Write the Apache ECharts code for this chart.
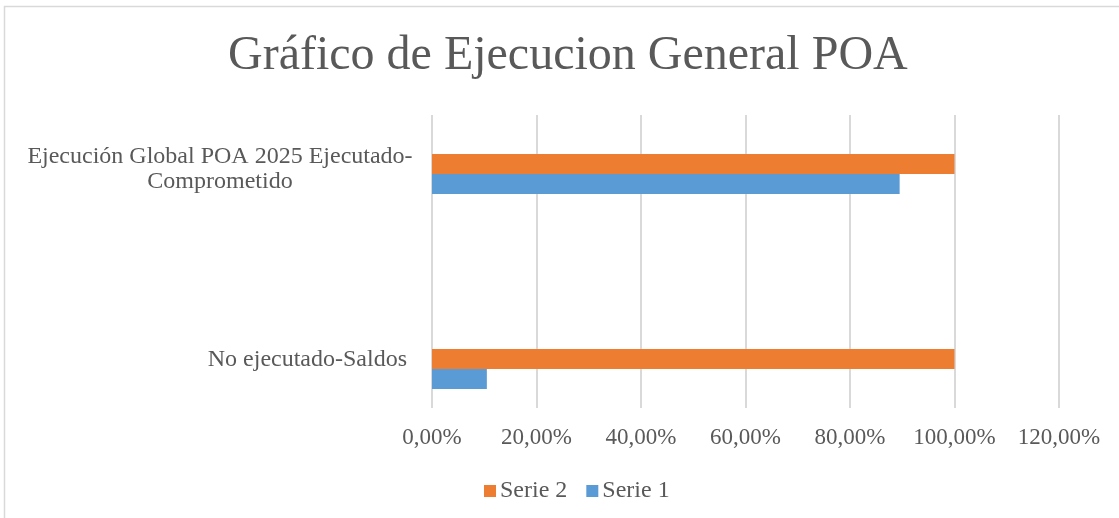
<!DOCTYPE html>
<html>
<head>
<meta charset="utf-8">
<script src="https://cdn.jsdelivr.net/npm/echarts@6/dist/echarts.min.js"></script>
<style>
  html, body { margin: 0; padding: 0; background: #fff; }
  #chart { width: 1119px; height: 518px; }
</style>
</head>
<body>
<div id="chart"></div>
<script>
var myChart = echarts.init(document.getElementById('chart'));

// datos
var categorias = ['No ejecutado-Saldos', 'Ejecución Global POA 2025 Ejecutado-Comprometido'];
var serie1 = [0.105, 0.895];
var serie2 = [1, 1];
var ejeX = { min: 0, max: 1.2, interval: 0.2 };

var fuente = 'Liberation Serif';
var gris = '#595959';

function pct(v) {
    return (v * 100).toFixed(2).replace('.', ',') + '%';
}

option = {
    backgroundColor: '#fff',
    animation: false,
    title: {
        text: 'Gráfico de Ejecucion General POA',
        left: 228,
        top: 32,
        padding: 0,
        textStyle: { fontFamily: fuente, fontSize: 48, fontWeight: 'normal', color: gris }
    },
    graphic: [{
        type: 'rect',
        shape: { x: 4.5, y: 6.5, width: 1300, height: 700 },
        style: { fill: 'none', stroke: '#d9d9d9', lineWidth: 1.5 },
        silent: true
    }],
    legend: {
        data: ['Serie 2', 'Serie 1'],
        left: 479,
        top: 474,
        icon: 'rect',
        itemWidth: 12,
        itemHeight: 12,
        itemGap: 19,
        textStyle: { fontFamily: fuente, fontSize: 24, color: gris, padding: [0, 0, 0, -1] }
    },
    grid: [
        { left: 432, right: 60, top: 76.5, bottom: 51.5 },
        { left: 432, right: 60, top: 115, bottom: 110 }
    ],
    xAxis: [
        { type: 'value', gridIndex: 0, min: ejeX.min, max: ejeX.max, interval: ejeX.interval, show: false },
        {
            type: 'value', gridIndex: 1, min: ejeX.min, max: ejeX.max, interval: ejeX.interval,
            axisLine: { show: false },
            axisTick: { show: false },
            splitLine: { lineStyle: { color: '#d9d9d9', width: 2 } },
            axisLabel: {
                formatter: pct, margin: 18,
                fontFamily: fuente, fontSize: 23, color: gris
            }
        }
    ],
    yAxis: [
        {
            type: 'category', gridIndex: 0, data: categorias,
            axisLine: { show: false },
            axisTick: { show: false },
            axisLabel: {
                margin: 19,
                padding: [0, 0, 10, 0],
                formatter: function (v) {
                    var i = v.indexOf('Ejecutado-Comprometido');
                    if (i < 0) return '{s|' + v + '}';
                    return '{c|' + v.slice(0, i + 10) + '}\n{c|' + v.slice(i + 10) + '}';
                },
                rich: {
                    c: { width: 386, align: 'center', fontFamily: fuente, fontSize: 24, color: gris, lineHeight: 25 },
                    s: { fontFamily: fuente, fontSize: 24, color: gris, padding: [0, 6, 8, 0] }
                }
            }
        },
        { type: 'value', gridIndex: 1, show: false, min: 0, max: 1 }
    ],
    series: [
        {
            name: 'Serie 2', type: 'bar', xAxisIndex: 0, yAxisIndex: 0,
            data: serie2, barWidth: 20, barGap: '0%',
            itemStyle: { color: '#ED7D31' }
        },
        {
            name: 'Serie 1', type: 'bar', xAxisIndex: 0, yAxisIndex: 0,
            data: serie1, barWidth: 20, barGap: '0%',
            itemStyle: { color: '#5B9BD5' }
        }
    ]
};

myChart.setOption(option);
</script>
</body>
</html>
